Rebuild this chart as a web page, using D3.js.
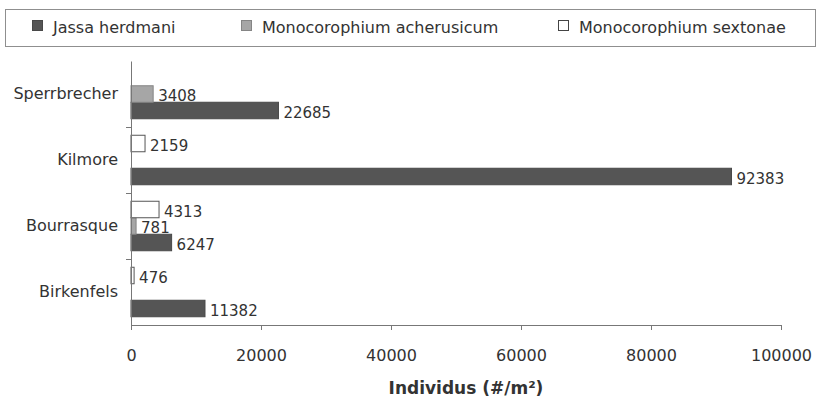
<!DOCTYPE html>
<html>
<head>
<meta charset="utf-8">
<script src="https://cdn.jsdelivr.net/npm/d3@7"></script>
<style>
  body { margin: 0; background: #fff; }
  svg { display: block; }
</style>
</head>
<body>
<svg id="chart" width="818" height="403"></svg>
<script>
const categories = ["Sperrbrecher", "Kilmore", "Bourrasque", "Birkenfels"];
const seriesNames = ["Jassa herdmani", "Monocorophium acherusicum", "Monocorophium sextonae"];
const jassaHerdmani = [22685, 92383, 6247, 11382];
const monoAcherusicum = [3408, null, 781, null];
const monoSextonae = [null, 2159, 4313, 476];
const xTicks = [0, 20000, 40000, 60000, 80000, 100000];
const axisTitle = "Individus (#/m²)";

const seriesValues = [jassaHerdmani, monoAcherusicum, monoSextonae];
const fills = ["#555555", "#a6a6a6", "#ffffff"];
const strokes = ["#484848", "#858585", "#555555"];
const labelFont = "'Comic Sans MS', 'DejaVu Sans', sans-serif";
const numFont = "'DejaVu Sans', Verdana, sans-serif";

const svg = d3.select("#chart");
const mLeft = 131, mRight = 781, mTop = 61, mBottom = 325;

const x = d3.scaleLinear().domain([0, 100000]).range([mLeft, mRight]);
const y = d3.scaleBand().domain(categories).range([mTop, mBottom]).padding(0);
// inner order from top: sextonae, acherusicum, jassa
const inner = d3.scaleBand().domain([2, 1, 0]).range([0, y.bandwidth()]).paddingInner(0).paddingOuter(0.5);

// legend
const lg = svg.append("g");
lg.append("rect").attr("x", 5.5).attr("y", 9.5).attr("width", 810).attr("height", 37)
  .attr("fill", "#fff").attr("stroke", "#8f8f8f");
const legendX = [32, 241, 558];
seriesNames.forEach((n, i) => {
  lg.append("rect").attr("x", legendX[i] + 0.5).attr("y", 20.5).attr("width", 10).attr("height", 10)
    .attr("fill", fills[i]).attr("stroke", i === 2 ? "#444" : strokes[i]);
  lg.append("text").attr("x", legendX[i] + 21).attr("y", 33)
    .attr("font-family", labelFont).attr("font-size", 16).attr("fill", "#333")
    .text(n);
});

// bars
const g = svg.append("g");
seriesValues.forEach((vals, si) => {
  categories.forEach((c, ci) => {
    const v = vals[ci];
    if (v == null) return;
    const by = y(c) + inner(si);
    g.append("rect")
      .attr("x", x(0)).attr("y", by)
      .attr("width", Math.max(1, x(v) - x(0))).attr("height", inner.bandwidth())
      .attr("fill", fills[si]).attr("stroke", strokes[si]).attr("stroke-width", 1);
    g.append("text")
      .attr("x", x(v) + 5).attr("y", by + inner.bandwidth() / 2 + 7)
      .attr("font-family", numFont).attr("font-size", 15).attr("fill", "#333")
      .text(v);
  });
});

// x axis
const xa = svg.append("g").attr("transform", `translate(0,${mBottom})`)
  .call(d3.axisBottom(x).tickValues(xTicks).tickSize(5).tickFormat(d3.format("d")));
xa.select(".domain").attr("stroke", "#777");
xa.selectAll(".tick line").attr("stroke", "#777");
xa.selectAll(".tick text").attr("font-family", labelFont).attr("font-size", 16)
  .attr("fill", "#333").attr("dy", "1.75em");

// y axis
const ya = svg.append("g").attr("transform", `translate(${mLeft},0)`)
  .call(d3.axisLeft(y).tickSize(0).tickPadding(13));
ya.select(".domain").attr("stroke", "#777");
ya.selectAll(".tick text").attr("font-family", labelFont).attr("font-size", 16).attr("fill", "#333");
// category separator ticks
ya.selectAll(".sep").data(categories.slice(1)).enter().append("line")
  .attr("x1", -5).attr("x2", 0)
  .attr("y1", d => y(d) + 0.5).attr("y2", d => y(d) + 0.5)
  .attr("stroke", "#777");

// axis title
svg.append("text").attr("x", 466).attr("y", 394)
  .attr("text-anchor", "middle").attr("font-family", numFont).attr("font-weight", "bold")
  .attr("font-size", 17).attr("fill", "#333").text(axisTitle);
</script>
</body>
</html>
